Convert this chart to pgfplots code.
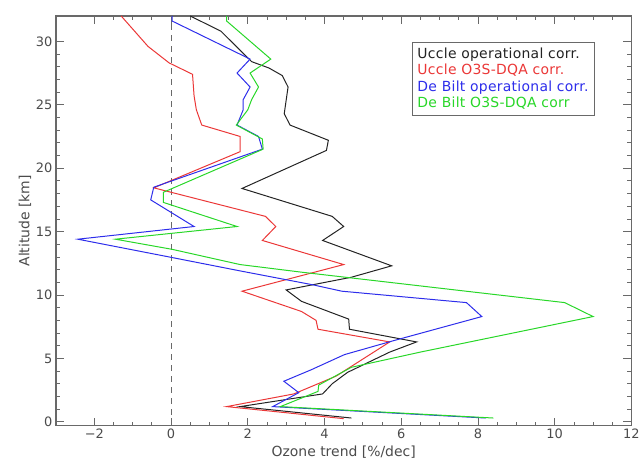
\documentclass[border=0pt]{standalone}
\usepackage{fontspec}
\setmainfont{DejaVu Sans}
\usepackage{pgfplots}
\pgfplotsset{compat=1.18}
\definecolor{ukblack}{RGB}{35,35,35}
\definecolor{ukred}{RGB}{235,55,55}
\definecolor{dbblue}{RGB}{45,45,235}
\definecolor{dbgreen}{RGB}{40,215,40}
\definecolor{axgray}{RGB}{105,105,105}
\definecolor{txtgray}{RGB}{75,75,75}

\begin{document}
\begin{tikzpicture}
\begin{axis}[name=ax,
  scale only axis, width=576bp, height=410bp,
  xmin=-3, xmax=12, ymin=-0.3, ymax=32,
  xtick={-2,0,2,4,6,8,10,12},
  xticklabels={−2,0,2,4,6,8,10,12},
  ytick={0,5,10,15,20,25,30},
  minor x tick num=3, minor y tick num=4,
  tick align=inside, major tick length=8bp, minor tick length=4bp,
  axis line style={axgray, line width=1.3pt},
  every tick/.style={axgray, line width=0.8pt},
  /pgf/number format/assume math mode=true,
  tick label style={font=\fontsize{13}{15}\selectfont, text=txtgray},
  xlabel={Ozone trend [\%/dec]}, ylabel={Altitude [km]},
  label style={font=\fontsize{14}{16}\selectfont, text=txtgray},
  ylabel style={yshift=-2bp},
  legend style={at={(rel axis cs:0.618,0.937)}, anchor=north west,
    draw=axgray, line width=0.8pt,
    font=\addfontfeature{LetterSpace=2}\fontsize{14}{16}\selectfont,
    inner sep=4pt, row sep=1.5pt, nodes={inner sep=1.5pt}},
  legend image code/.code={},
  legend cell align=left,
]
\addplot[axgray, line width=1pt, dash pattern=on 6bp off 5bp, forget plot]
  coordinates {(0,-0.3)(0,32)};

\addplot[ukblack, line width=1pt] coordinates {
 (4.7,0.3)(1.8,1.2)(3.95,2.2)(4.2,3.0)(4.6,3.9)(5.15,4.7)(5.7,5.5)(6.4,6.3)
 (4.65,7.3)(4.63,8.1)(3.4,9.5)(3.0,10.4)(4.7,11.4)(5.75,12.3)(3.95,14.3)
 (4.5,15.4)(4.2,16.2)(1.85,18.4)(4.05,21.4)(4.1,22.2)(3.1,23.4)(2.95,24.3)
 (3.05,26.4)(2.9,27.3)(2.55,27.9)(2.1,28.4)(1.3,30.8)(0.5,32)};
\addlegendentry{\textcolor{ukblack}{Uccle operational corr.}}

\addplot[ukred, line width=1pt] coordinates {
 (4.5,0.25)(1.45,1.2)(3.2,2.2)(4.3,3.6)(5.7,6.3)(3.83,7.3)(3.78,8.0)(3.4,8.7)
 (1.85,10.3)(4.5,12.4)(2.38,14.3)(2.73,15.4)(2.46,16.2)(0.0,18.1)(-0.45,18.45)
 (1.8,21.3)(1.8,22.5)(0.8,23.4)(0.66,24.6)(0.6,25.7)(0.56,27.4)(-0.05,28.3)
 (-0.6,29.6)(-1.3,32)};
\addlegendentry{\textcolor{ukred}{Uccle O3S-DQA corr.}}

\addplot[dbblue, line width=1pt] coordinates {
 (8.2,0.3)(2.65,1.2)(3.33,2.3)(2.94,3.2)(3.65,4.1)(4.52,5.3)(5.8,6.4)(8.1,8.3)
 (7.7,9.4)(4.45,10.3)(3.7,10.8)(1.8,11.9)(-0.05,13.0)(-2.43,14.4)(0.6,15.4)
 (-0.53,17.5)(-0.45,18.5)(2.38,21.5)(2.28,22.5)(1.72,23.4)(1.88,24.6)
 (1.88,25.4)(2.06,26.4)(1.72,27.5)(2.06,28.6)(0.03,31.6)(0.03,32)};
\addlegendentry{\textcolor{dbblue}{De Bilt operational corr.}}

\addplot[dbgreen, line width=1pt] coordinates {
 (8.4,0.3)(2.85,1.2)(3.83,2.4)(3.85,2.9)(4.7,4.3)(6.5,5.5)(11.0,8.3)(10.26,9.4)
 (3.4,11.8)(1.8,12.4)(0.03,13.6)(-1.45,14.4)(1.72,15.4)(-0.2,17.3)(-0.2,18.1)
 (2.4,21.5)(2.38,22.3)(1.7,23.4)(2.0,24.6)(2.1,25.4)(2.28,26.4)(2.06,27.5)
 (2.6,28.6)(1.45,31.6)(1.45,32)};
\addlegendentry{\textcolor{dbgreen}{De Bilt O3S-DQA corr}}
\end{axis}
\path (ax.south west) ++(-56bp,-41bp);
\path (ax.north east) ++(11bp,16bp);
\end{tikzpicture}
\end{document}
